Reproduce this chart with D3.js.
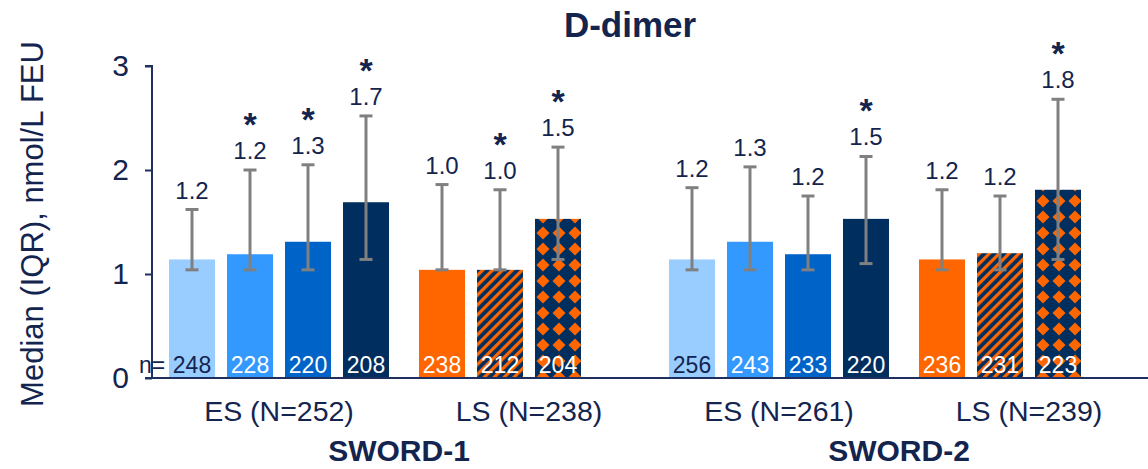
<!DOCTYPE html>
<html><head><meta charset="utf-8">
<script src="https://cdn.jsdelivr.net/npm/d3@7"></script>
<style>html,body{margin:0;padding:0;background:#fff;} svg{display:block;font-family:"Liberation Sans",Arial,sans-serif;}</style>
</head><body>
<svg id="chart" width="1148" height="469"></svg>
<script>
// ---- data ----
const categories = ["ES (N=252)", "LS (N=238)", "ES (N=261)", "LS (N=239)"];
const trials = ["SWORD-1", "SWORD-2"];
const medians = [[1.14, 1.19, 1.31, 1.69], [1.04, 1.04, 1.53], [1.14, 1.31, 1.19, 1.53], [1.14, 1.20, 1.81]];
const q1 = [[1.04, 1.04, 1.04, 1.14], [1.04, 1.04, 1.14], [1.04, 1.04, 1.04, 1.10], [1.04, 1.04, 1.14]];
const q3 = [[1.62, 2.00, 2.05, 2.52], [1.86, 1.81, 2.22], [1.83, 2.03, 1.75, 2.13], [1.81, 1.75, 2.68]];
const valueLabels = [["1.2", "1.2", "1.3", "1.7"], ["1.0", "1.0", "1.5"], ["1.2", "1.3", "1.2", "1.5"], ["1.2", "1.2", "1.8"]];
const nCounts = [[248, 228, 220, 208], [238, 212, 204], [256, 243, 233, 220], [236, 231, 223]];
const significant = [[false, true, true, true], [false, true, true], [false, false, false, true], [false, false, true]];
const yTicks = [0, 1, 2, 3];

// ---- styles ----
const NAVY_TXT = "#13244f";
const esFills = ["#99ccff", "#3399ff", "#0063c8", "#002e5f"];
const lsFills = ["#ff6600", "url(#stripes)", "url(#diamonds)"];
const nColorsES = [NAVY_TXT, "#fff", "#fff", "#fff"];

const svg = d3.select("#chart");
const defs = svg.append("defs");
const st = defs.append("pattern").attr("id", "stripes").attr("patternUnits", "userSpaceOnUse")
  .attr("width", 7).attr("height", 7).attr("patternTransform", "rotate(45)");
st.append("rect").attr("width", 7).attr("height", 7).attr("fill", "#002e5f");
st.append("rect").attr("width", 3.2).attr("height", 7).attr("fill", "#ff6600");
const dm = defs.append("pattern").attr("id", "diamonds").attr("patternUnits", "userSpaceOnUse")
  .attr("width", 16).attr("height", 16).attr("x", 3).attr("y", 1);
dm.append("rect").attr("width", 16).attr("height", 16).attr("fill", "#002e5f");
dm.append("polygon").attr("points", "8,1.5 14.5,8 8,14.5 1.5,8").attr("fill", "#ff6600");

// ---- scales ----
const y = d3.scaleLinear().domain([0, 3]).range([378, 66]);
const xCat = d3.scaleBand().domain(d3.range(categories.length)).range([154, 1154]).padding(0);
const xSlot = d3.scaleBand().domain([0, 1, 2, 3]).range([15, 235]).paddingInner(12 / 58).paddingOuter(0);

// title
svg.append("text").attr("x", 630).attr("y", 37).attr("text-anchor", "middle")
  .attr("font-size", 35).attr("font-weight", "bold").attr("fill", NAVY_TXT).text("D-dimer");

// y label
svg.append("text").attr("transform", "translate(43,224) rotate(-90)").attr("text-anchor", "middle")
  .attr("font-size", 31).attr("fill", NAVY_TXT).text("Median (IQR), nmol/L FEU");

// bars
categories.forEach((cat, ci) => {
  const g = svg.append("g").attr("transform", `translate(${xCat(ci)},0)`);
  const isES = ci % 2 === 0;
  const rows = medians[ci].map((m, i) => ({ m, i, lo: q1[ci][i], hi: q3[ci][i], lab: valueLabels[ci][i], n: nCounts[ci][i], sig: significant[ci][i] }));
  g.selectAll("rect.bar").data(rows).join("rect").attr("class", "bar")
    .attr("x", d => xSlot(d.i)).attr("width", xSlot.bandwidth())
    .attr("y", d => y(d.m)).attr("height", d => y(0) - y(d.m))
    .attr("fill", d => isES ? esFills[d.i] : lsFills[d.i]);
  const cx = d => xSlot(d.i) + xSlot.bandwidth() / 2;
  // n labels
  g.selectAll("text.n").data(rows).join("text").attr("class", "n")
    .attr("x", cx).attr("y", 373).attr("text-anchor", "middle").attr("font-size", 23)
    .attr("fill", d => isES ? nColorsES[d.i] : "#fff").text(d => d.n);
  // error bars
  const eb = g.selectAll("g.eb").data(rows).join("g").attr("class", "eb")
    .attr("stroke", "#808080").attr("stroke-width", 3);
  eb.append("line").attr("x1", cx).attr("x2", cx).attr("y1", d => y(d.lo)).attr("y2", d => y(d.hi));
  eb.append("line").attr("x1", d => cx(d) - 6.5).attr("x2", d => cx(d) + 6.5).attr("y1", d => y(d.hi)).attr("y2", d => y(d.hi));
  eb.append("line").attr("x1", d => cx(d) - 6.5).attr("x2", d => cx(d) + 6.5).attr("y1", d => y(d.lo)).attr("y2", d => y(d.lo));
  // value labels
  g.selectAll("text.v").data(rows).join("text").attr("class", "v")
    .attr("x", cx).attr("y", d => y(d.hi) - 11).attr("text-anchor", "middle")
    .attr("font-size", 24).attr("fill", NAVY_TXT).text(d => d.lab);
  g.selectAll("text.s").data(rows.filter(d => d.sig)).join("text").attr("class", "s")
    .attr("x", cx).attr("y", d => y(d.hi) - 34).attr("text-anchor", "middle")
    .attr("font-size", 34).attr("font-weight", "bold").attr("fill", NAVY_TXT).text("*");
  // category label
  svg.append("text").attr("x", xCat(ci) + xCat.bandwidth() / 2).attr("y", 421)
    .attr("text-anchor", "middle").attr("font-size", 28.5).attr("fill", NAVY_TXT).text(cat);
});

// trial labels
trials.forEach((t, ti) => {
  svg.append("text").attr("x", xCat(ti * 2 + 1) - 5).attr("y", 461).attr("text-anchor", "middle")
    .attr("font-size", 30).attr("font-weight", "bold").attr("fill", NAVY_TXT).text(t);
});

// axes
const axG = svg.append("g").attr("transform", "translate(152,0)")
  .call(d3.axisLeft(y).tickValues(yTicks).tickFormat(d3.format("d")).tickSize(7).tickPadding(16));
axG.select(".domain").attr("stroke", "#1f3060").attr("stroke-width", 2).attr("d", `M-7,${y(3)}H0V${y(0)}`);
axG.selectAll(".tick line").attr("stroke", "#1f3060").attr("stroke-width", 2);
axG.selectAll(".tick text").attr("font-size", 30).attr("fill", NAVY_TXT).attr("font-family", "'Liberation Sans',Arial,sans-serif");
svg.append("line").attr("x1", 145).attr("x2", 1148).attr("y1", y(0)).attr("y2", y(0))
  .attr("stroke", "#1f3060").attr("stroke-width", 2);

// n= prefix
svg.append("text").attr("x", 139).attr("y", 373).attr("font-size", 23).attr("fill", NAVY_TXT).text("n=");
</script>
</body></html>
